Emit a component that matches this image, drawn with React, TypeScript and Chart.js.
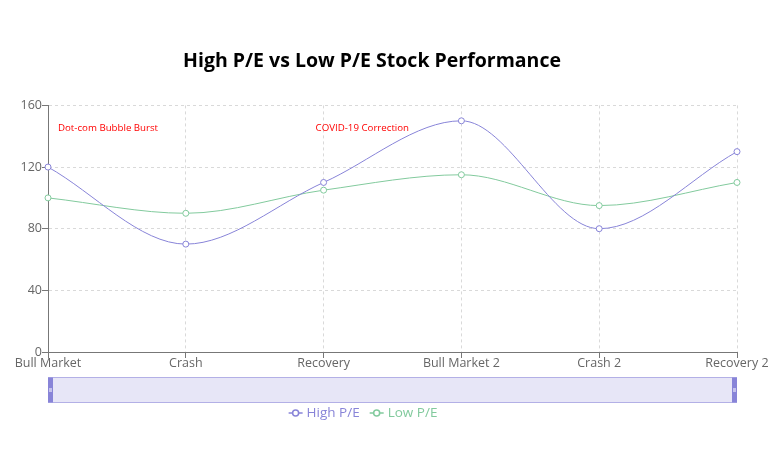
import React, { useEffect, useRef } from "react";
import { Chart, registerables } from "chart.js";

Chart.register(...registerables);

const categories = ["Bull Market", "Crash", "Recovery", "Bull Market 2", "Crash 2", "Recovery 2"];
const highPE = [120, 70, 110, 150, 80, 130];
const lowPE = [100, 90, 105, 115, 95, 110];
const yTicks = [0, 40, 80, 120, 160];
const annotationLabels = ["Dot-com Bubble Burst", "COVID-19 Correction"];
const annotationCategories = ["Bull Market", "Recovery"];
const annotationValues = [145, 145];

const FONT = "'Open Sans', 'Noto Sans', sans-serif";
const HIGH_COLOR = "#8884d8";
const LOW_COLOR = "#82ca9d";

const extrasPlugin = {
  id: "extras",
  afterDatasetsDraw(chart: any) {
    const ctx = chart.ctx;
    const xs = chart.scales.x;
    const ys = chart.scales.y;
    const area = chart.chartArea;
    // annotations
    const offsets = [10, -8];
    ctx.save();
    ctx.font = `9.7px ${FONT}`;
    ctx.fillStyle = "red";
    ctx.textAlign = "left";
    ctx.textBaseline = "middle";
    annotationLabels.forEach((t, i) => {
      const idx = categories.indexOf(annotationCategories[i]);
      const x = xs.getPixelForValue(idx) + offsets[i];
      const y = ys.getPixelForValue(annotationValues[i]);
      ctx.fillText(t, x, y);
    });
    ctx.restore();

    // brush
    ctx.save();
    const bTop = 377.5;
    const bH = 25;
    ctx.fillStyle = "rgba(136,132,216,0.2)";
    ctx.fillRect(area.left, bTop, area.right - area.left, bH);
    ctx.strokeStyle = "rgba(136,132,216,0.6)";
    ctx.lineWidth = 1;
    ctx.strokeRect(area.left + 0.5, bTop, area.right - area.left - 1, bH);
    ctx.fillStyle = HIGH_COLOR;
    ctx.fillRect(area.left, bTop, 5, bH);
    ctx.fillRect(area.right - 5, bTop, 5, bH);
    ctx.strokeStyle = "#fff";
    [area.left, area.right - 5].forEach((x) => {
      ctx.beginPath();
      ctx.moveTo(x + 1, bTop + bH / 2 - 1);
      ctx.lineTo(x + 4, bTop + bH / 2 - 1);
      ctx.moveTo(x + 1, bTop + bH / 2 + 1);
      ctx.lineTo(x + 4, bTop + bH / 2 + 1);
      ctx.stroke();
    });
    ctx.restore();

    // legend
    ctx.save();
    ctx.font = `13.5px ${FONT}`;
    ctx.textBaseline = "middle";
    ctx.textAlign = "left";
    const items = [
      { label: "High P/E", color: HIGH_COLOR },
      { label: "Low P/E", color: LOW_COLOR },
    ];
    const iconW = 14;
    const gap = 4;
    const itemGap = 10;
    const widths = items.map((it) => iconW + gap + ctx.measureText(it.label).width);
    const total = widths.reduce((a, b) => a + b, 0) + itemGap * (items.length - 1);
    let x = 363 - total / 2;
    const ly = 413;
    items.forEach((it, i) => {
      ctx.strokeStyle = it.color;
      ctx.lineWidth = 1.5;
      ctx.beginPath();
      ctx.moveTo(x, ly);
      ctx.lineTo(x + iconW, ly);
      ctx.stroke();
      ctx.beginPath();
      ctx.arc(x + iconW / 2, ly, 3, 0, Math.PI * 2);
      ctx.fillStyle = "#fff";
      ctx.fill();
      ctx.stroke();
      ctx.fillStyle = it.color;
      ctx.fillText(it.label, x + iconW + gap, ly);
      x += widths[i] + itemGap;
    });
    ctx.restore();
  },
};

export default function App() {
  const ref = useRef<HTMLCanvasElement | null>(null);
  useEffect(() => {
    if (!ref.current) return;
    const makeDs = (label: string, data: number[], color: string) => ({
      label,
      data,
      borderColor: color,
      backgroundColor: "#fff",
      borderWidth: 1,
      pointRadius: 3,
      pointBorderWidth: 1,
      pointBackgroundColor: "#fff",
      pointBorderColor: color,
      cubicInterpolationMode: "monotone" as const,
      fill: false,
    });
    const chart = new Chart(ref.current, {
      type: "line",
      data: {
        labels: categories,
        datasets: [makeDs("High P/E", highPE, HIGH_COLOR), makeDs("Low P/E", lowPE, LOW_COLOR)],
      },
      options: {
        responsive: false,
        animation: false,
        layout: { padding: { top: 50, left: 7, right: 43, bottom: 88 } },
        plugins: {
          legend: { display: false },
          tooltip: { enabled: false },
          title: {
            display: true,
            text: "High P/E vs Low P/E Stock Performance",
            color: "#000",
            font: { family: FONT, size: 19.5, weight: "bold" },
            padding: { top: 0, bottom: 32 },
          },
        },
        scales: {
          x: {
            type: "category",
            offset: false,
            afterFit: (s: any) => {
              s.height = 30;
            },
            grid: {
              color: "#d9d9d9",
              tickLength: 6,
              tickColor: "#777",
              tickBorderDash: [],
              drawTicks: true,
            } as any,
            border: { color: "#777", display: true, dash: [3, 3] },
            ticks: { color: "#666", font: { family: FONT, size: 12.5 }, padding: -2, maxRotation: 0, autoSkip: false },
          },
          y: {
            min: 0,
            max: 160,
            afterFit: (s: any) => {
              s.width = 41;
            },
            afterBuildTicks: (s: any) => {
              s.ticks = yTicks.map((v) => ({ value: v }));
            },
            grid: {
              color: "#d9d9d9",
              tickLength: 6,
              tickColor: "#777",
              tickBorderDash: [],
            } as any,
            border: { color: "#777", display: true, dash: [3, 3] },
            ticks: { color: "#666", font: { family: FONT, size: 12.5 }, padding: 0 },
          },
        },
      },
      plugins: [extrasPlugin],
    });
    return () => chart.destroy();
  }, []);
  return (
    <div style={{ position: "absolute", left: 0, top: 0, width: 780, height: 470, background: "#fff" }}>
      <canvas ref={ref} width={780} height={470} />
    </div>
  );
}
